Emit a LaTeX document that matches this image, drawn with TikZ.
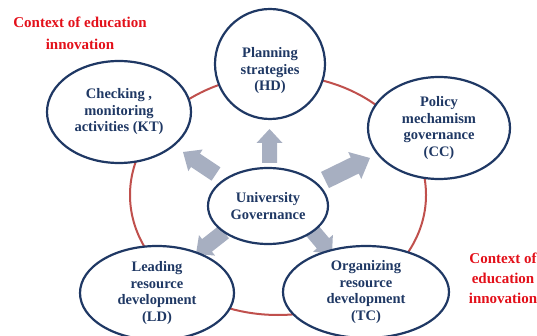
\documentclass[tikz,border=0pt]{standalone}
\usepackage{fontspec}
\setmainfont{Liberation Serif}
\usetikzlibrary{shapes.geometric,calc}
\definecolor{navy}{HTML}{1F3864}
\definecolor{ringred}{HTML}{C0504D}
\definecolor{ctxred}{HTML}{E3101A}
\definecolor{arrowgray}{HTML}{A7AFC1}
\newcommand{\blkarrow}[5]{%
  \path ($(#2)!#5!(#1)$) coordinate (bh);
  \fill[arrowgray] ($(#1)!#3!90:(#2)$) -- ($(bh)!#3!90:(#2)$) -- ($(bh)!#4!90:(#2)$) -- (#2)
    -- ($(bh)!#4!-90:(#2)$) -- ($(bh)!#3!-90:(#2)$) -- ($(#1)!#3!-90:(#2)$) -- cycle;}
\tikzset{
  ue/.style={ellipse, draw=navy, line width=2.2pt, fill=white, inner sep=0pt,
    text=navy, font=\bfseries\fontsize{14.5}{16.5}\selectfont, align=center},
  lbl/.style={text=navy, font=\bfseries\fontsize{14.5}{16.5}\selectfont, align=center, inner sep=0pt},
  ctx/.style={text=ctxred, align=center, inner sep=0pt}
}
\begin{document}
\begin{tikzpicture}[x=1pt,y=-1pt]
\useasboundingbox (0,0) rectangle (537,336);
% ring
\draw[ringred, line width=2pt] (278,195) ellipse [x radius=148, y radius=120];
% arrows
\coordinate (upA) at (269.5,163); \coordinate (upB) at (269.5,129);
\coordinate (ulA) at (216,174);   \coordinate (ulB) at (183,152);
\coordinate (rA) at (325,180);    \coordinate (rB) at (370,158);
\coordinate (llA) at (224,232);   \coordinate (llB) at (196,254);
\coordinate (lrA) at (310,228);   \coordinate (lrB) at (332,254);
\blkarrow{upA}{upB}{7.5pt}{13pt}{14pt}
\blkarrow{ulA}{ulB}{8pt}{13pt}{15pt}
\blkarrow{rA}{rB}{9pt}{15pt}{17pt}
\blkarrow{llA}{llB}{8pt}{13pt}{14pt}
\blkarrow{lrA}{lrB}{8pt}{13pt}{14pt}
% nodes
\node[ue, minimum width=144pt, minimum height=102pt] (kt) at (119,112) {Checking ,\\monitoring\\activities (KT)};
\node[ue, minimum width=110pt, minimum height=110pt] (hd) at (270,64) {};
\node[lbl] (hdt) at (270,71) {Planning\\strategies\\(HD)};
\node[ue, minimum width=142pt, minimum height=102pt] (cc) at (439,128) {Policy\\mechamism\\governance\\(CC)};
\node[ue, minimum width=120pt, minimum height=76pt] (ug) at (268,206) {University\\Governance};
\node[ue, minimum width=154pt, minimum height=94pt] (ld) at (157,293) {Leading\\resource\\development\\(LD)};
\node[ue, minimum width=166pt, minimum height=92pt] (tc) at (366,292) {Organizing\\resource\\development\\(TC)};
% context labels
\node[ctx, font=\bfseries\fontsize{15}{22}\selectfont] (ctx1) at (80,33) {Context of education\\innovation};
\node[ctx, font=\bfseries\fontsize{15}{20}\selectfont] (ctx2) at (503,278) {Context of\\education\\innovation};
\end{tikzpicture}
\end{document}
